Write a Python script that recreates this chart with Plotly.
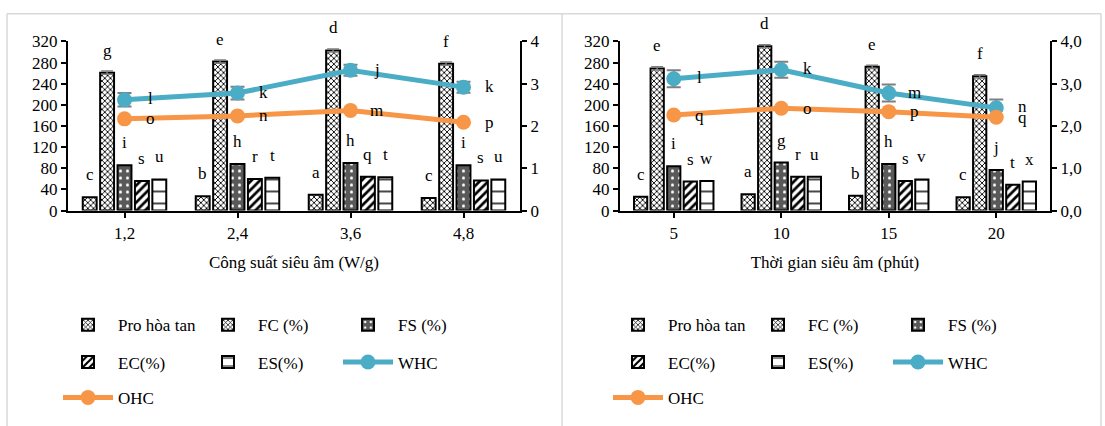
import plotly.graph_objects as go

# ---------------- data ----------------
power_cats = ["1,2", "2,4", "3,6", "4,8"]
time_cats = ["5", "10", "15", "20"]

series_names = ["Pro hòa tan", "FC (%)", "FS (%)", "EC(%)", "ES(%)"]

# left panel (ultrasonic power)
p_pro = [25, 27, 30, 24]
p_fc = [261, 282, 303, 278]
p_fs = [86, 88, 90, 86]
p_ec = [56, 60, 64, 57]
p_es = [59, 62, 63, 59]
p_whc = [2.62, 2.78, 3.32, 2.92]
p_whc_err = [0.16, 0.15, 0.13, 0.13]
p_ohc = [2.17, 2.24, 2.37, 2.09]

p_pro_lbl = ["c", "b", "a", "c"]
p_fc_lbl = ["g", "e", "d", "f"]
p_fs_lbl = ["i", "h", "h", "i"]
p_ec_lbl = ["s", "r", "q", "s"]
p_es_lbl = ["u", "t", "t", "u"]
p_whc_lbl = ["l", "k", "j", "k"]
p_ohc_lbl = ["o", "n", "m", "p"]

# right panel (ultrasonic time)
t_pro = [26, 31, 28, 25]
t_fc = [269, 311, 272, 254]
t_fs = [84, 91, 88, 77]
t_ec = [55, 64, 56, 49]
t_es = [56, 64, 59, 55]
t_whc = [3.12, 3.33, 2.78, 2.43]
t_whc_err = [0.20, 0.19, 0.20, 0.20]
t_ohc = [2.26, 2.42, 2.34, 2.21]

t_pro_lbl = ["c", "a", "b", "c"]
t_fc_lbl = ["e", "d", "e", "f"]
t_fs_lbl = ["i", "g", "h", "j"]
t_ec_lbl = ["s", "r", "s", "t"]
t_es_lbl = ["w", "u", "v", "x"]
t_whc_lbl = ["l", "k", "m", "n"]
t_ohc_lbl = ["q", "o", "p", "q"]

left_y_ticks = [0, 40, 80, 120, 160, 200, 240, 280, 320]

# ---------------- style ----------------
W, H = 1105, 426
FONT = "Liberation Serif, Times New Roman, serif"
FS = 17
BARGAP = 0.23
BARGROUPGAP = 0.2
WHC_COLOR = "#4BACC6"
OHC_COLOR = "#F79646"
ERR_COLOR = "#7F7F7F"

patterns = [
    dict(shape="x", size=4, solidity=0.4, fgcolor="#000000", bgcolor="#FFFFFF", fillmode="replace"),
    dict(shape="x", size=4, solidity=0.4, fgcolor="#000000", bgcolor="#FFFFFF", fillmode="replace"),
    dict(shape=".", size=7, solidity=0.15, fgcolor="#FFFFFF", bgcolor="#595959", fillmode="replace"),
    dict(shape="/", size=6, solidity=0.45, fgcolor="#000000", bgcolor="#FFFFFF", fillmode="replace"),
    dict(shape="-", size=12, solidity=0.12, fgcolor="#000000", bgcolor="#FFFFFF", fillmode="replace"),
]

def px_x(p):
    return p / W

def px_y(p):
    return (H - p) / H

left_dom = [px_x(68), px_x(520)]
right_dom = [px_x(620), px_x(1050)]
y_dom = [px_y(211), px_y(34)]

fig = go.Figure()
annotations = []
txtfont = dict(family=FONT, size=FS, color="#000000")

panels = [
    dict(cats=power_cats, bars=[p_pro, p_fc, p_fs, p_ec, p_es],
         lbls=[p_pro_lbl, p_fc_lbl, p_fs_lbl, p_ec_lbl, p_es_lbl],
         whc=p_whc, whc_err=p_whc_err, ohc=p_ohc, whc_lbl=p_whc_lbl, ohc_lbl=p_ohc_lbl,
         xa="x", ya="y", ya2="y2", legends=["legend", "legend2", "legend3"], dom=left_dom),
    dict(cats=time_cats, bars=[t_pro, t_fc, t_fs, t_ec, t_es],
         lbls=[t_pro_lbl, t_fc_lbl, t_fs_lbl, t_ec_lbl, t_es_lbl],
         whc=t_whc, whc_err=t_whc_err, ohc=t_ohc, whc_lbl=t_whc_lbl, ohc_lbl=t_ohc_lbl,
         xa="x2", ya="y3", ya2="y4", legends=["legend4", "legend5", "legend6"], dom=right_dom),
]

legend_rows = [0, 0, 0, 1, 1]  # bars; WHC -> row 1, OHC -> row 2

for pn in panels:
    cats = pn["cats"]
    plot_w = (pn["dom"][1] - pn["dom"][0]) * W
    slot = plot_w / len(cats) * (1 - BARGAP) / len(series_names)
    for i, (name, vals, lbls) in enumerate(zip(series_names, pn["bars"], pn["lbls"])):
        err = dict(type="constant", value=3, color=ERR_COLOR, thickness=1.5, width=6, visible=(i == 1))
        fig.add_trace(go.Bar(
            x=cats, y=vals, name=name, xaxis=pn["xa"], yaxis=pn["ya"],
            marker=dict(color=patterns[i]["bgcolor"], pattern=patterns[i],
                        line=dict(color="#000000", width=2)),
            error_y=err,
            legend=pn["legends"][legend_rows[i]],
            hoverinfo="skip",
        ))
        for j, (v, t) in enumerate(zip(vals, lbls)):
            annotations.append(dict(
                x=j, y=v, xref=pn["xa"], yref=pn["ya"], text=t, showarrow=False,
                xshift=(i - 2) * slot, yshift=11, yanchor="bottom", xanchor="center",
                font=txtfont))
    fig.add_trace(go.Scatter(
        x=cats, y=pn["whc"], name="WHC", xaxis=pn["xa"], yaxis=pn["ya2"],
        mode="lines+markers", line=dict(color=WHC_COLOR, width=5),
        marker=dict(color=WHC_COLOR, size=15),
        error_y=dict(type="data", array=pn["whc_err"], color=ERR_COLOR, thickness=2, width=7),
        legend=pn["legends"][1], hoverinfo="skip",
    ))
    fig.add_trace(go.Scatter(
        x=cats, y=pn["ohc"], name="OHC", xaxis=pn["xa"], yaxis=pn["ya2"],
        mode="lines+markers", line=dict(color=OHC_COLOR, width=5),
        marker=dict(color=OHC_COLOR, size=15),
        legend=pn["legends"][2], hoverinfo="skip",
    ))
    for vals, lbls, ys in ((pn["whc"], pn["whc_lbl"], 1), (pn["ohc"], pn["ohc_lbl"], 0)):
        for j, (v, t) in enumerate(zip(vals, lbls)):
            annotations.append(dict(
                x=j, y=v, xref=pn["xa"], yref=pn["ya2"], text=t, showarrow=False,
                xshift=26, yshift=ys, yanchor="middle", xanchor="center",
                font=txtfont))

axis_common = dict(showline=True, linecolor="#000000", linewidth=2, ticks="outside",
                   tickcolor="#000000", tickwidth=2, ticklen=5, showgrid=False,
                   zeroline=False, tickfont=txtfont)

layout_axes = dict(
    xaxis=dict(domain=left_dom, anchor="y", type="category", ticklabelstandoff=1,
               title=dict(text="Công suất siêu âm (W/g)", font=txtfont, standoff=14),
               **axis_common),
    yaxis=dict(domain=y_dom, anchor="x", range=[0, 320], tickvals=left_y_ticks, **axis_common),
    yaxis2=dict(overlaying="y", anchor="x", side="right", range=[0, 4], dtick=1,
                tickformat="d", **axis_common),
    xaxis2=dict(domain=right_dom, anchor="y3", type="category", ticklabelstandoff=1,
                title=dict(text="Thời gian siêu âm (phút)", font=txtfont, standoff=14),
                **axis_common),
    yaxis3=dict(domain=y_dom, anchor="x2", range=[0, 320], tickvals=left_y_ticks, **axis_common),
    yaxis4=dict(overlaying="y3", anchor="x2", side="right", range=[0, 4], dtick=1,
                tickformat=".1f", **axis_common),
)

row_y = [331, 370, 407]
legends = {}
for k, (lx, ry) in enumerate([(58, row_y[0]), (58, row_y[1]), (58, row_y[2]),
                                (608, row_y[0]), (608, row_y[1]), (608, row_y[2])]):
    key = "legend" if k == 0 else f"legend{k + 1}"
    legends[key] = dict(x=px_x(lx), y=px_y(ry), xanchor="left", yanchor="middle",
                        orientation="h", entrywidth=75, entrywidthmode="pixels",
                        itemwidth=50,
                        font=txtfont, bgcolor="rgba(0,0,0,0)", tracegroupgap=0)

border = dict(color="#D9D9D9", width=1.5)
shapes = [
    dict(type="line", xref="paper", yref="paper", x0=px_x(7), x1=px_x(1101), y0=px_y(5), y1=px_y(5), line=border),
    dict(type="line", xref="paper", yref="paper", x0=px_x(7), x1=px_x(7), y0=px_y(5), y1=-0.05, line=border),
    dict(type="line", xref="paper", yref="paper", x0=px_x(562), x1=px_x(562), y0=px_y(5), y1=-0.05, line=border),
    dict(type="line", xref="paper", yref="paper", x0=px_x(1101), x1=px_x(1101), y0=px_y(5), y1=-0.05, line=border),
]

fig.update_layout(
    width=W, height=H, margin=dict(l=0, r=0, t=0, b=0),
    paper_bgcolor="#FFFFFF", plot_bgcolor="rgba(0,0,0,0)",
    font=txtfont,
    barmode="group", bargap=BARGAP, bargroupgap=BARGROUPGAP,
    separators=", ",
    annotations=annotations, shapes=shapes,
    **layout_axes, **legends,
)

fig.write_html("out.html", config={"displayModeBar": False},
               post_script="document.body.style.margin='0';document.body.style.overflow='hidden';")
